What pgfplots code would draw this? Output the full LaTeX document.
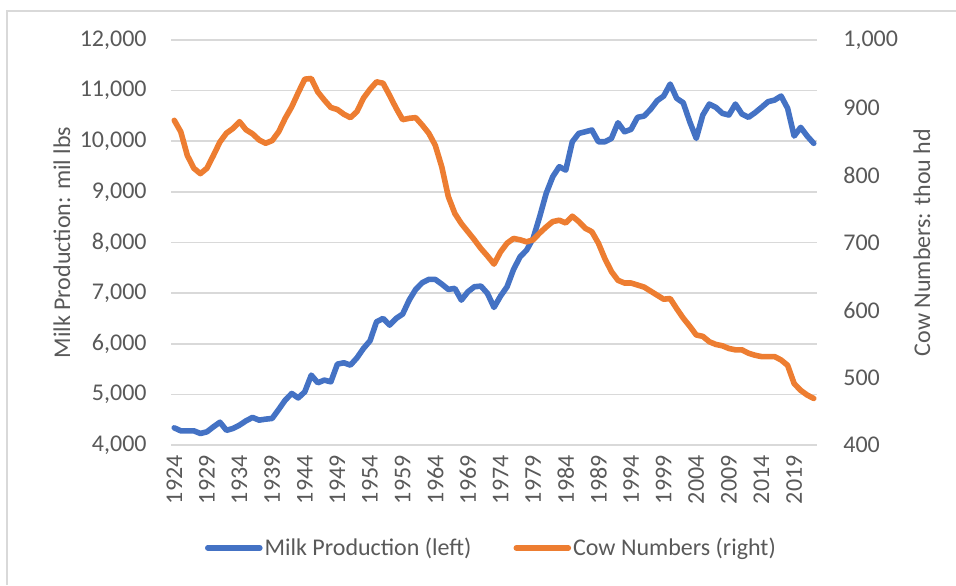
\documentclass[border=0pt]{standalone}
\usepackage{fontspec}
\setmainfont{Carlito}
\usepackage{pgfplots}
\usepackage{pgfplotstable}
\pgfplotsset{compat=1.18}
\definecolor{milkblue}{HTML}{4472C4}
\definecolor{coworange}{HTML}{ED7D31}
\definecolor{gridgrey}{HTML}{D9D9D9}
\definecolor{textgrey}{HTML}{595959}

\pgfplotstableread{
year milk
1924 4339
1925 4280
1926 4280
1927 4280
1928 4228
1929 4260
1930 4359
1931 4450
1932 4290
1933 4327
1934 4393
1935 4478
1936 4545
1937 4491
1938 4511
1939 4525
1940 4702
1941 4886
1942 5018
1943 4930
1944 5050
1945 5380
1946 5229
1947 5282
1948 5248
1949 5598
1950 5624
1951 5578
1952 5722
1953 5908
1954 6058
1955 6434
1956 6500
1957 6368
1958 6500
1959 6586
1960 6862
1961 7074
1962 7205
1963 7271
1964 7271
1965 7178
1966 7074
1967 7094
1968 6862
1969 7027
1970 7126
1971 7139
1972 6995
1973 6718
1974 6941
1975 7126
1976 7469
1977 7718
1978 7850
1979 8082
1980 8509
1981 8971
1982 9299
1983 9497
1984 9431
1985 9990
1986 10156
1987 10188
1988 10222
1989 9990
1990 9990
1991 10057
1992 10366
1993 10188
1994 10235
1995 10473
1996 10498
1997 10631
1998 10801
1999 10893
2000 11130
2001 10848
2002 10761
2003 10386
2004 10057
2005 10518
2006 10735
2007 10670
2008 10552
2009 10518
2010 10735
2011 10538
2012 10473
2013 10564
2014 10670
2015 10781
2016 10814
2017 10893
2018 10650
2019 10103
2020 10275
2021 10103
2022 9959
}\milktable

\pgfplotstableread{
year cows
1924 881
1925 864
1926 829
1927 810
1928 802
1929 810
1930 829
1931 849
1932 862
1933 869
1934 879
1935 867
1936 861
1937 852
1938 847
1939 851
1940 864
1941 884
1942 901
1943 922
1944 942
1945 943
1946 923
1947 911
1948 900
1949 897
1950 890
1951 885
1952 894
1953 914
1954 927
1955 938
1956 936
1957 918
1958 899
1959 882
1960 884
1961 885
1962 874
1963 862
1964 844
1965 812
1966 768
1967 743
1968 728
1969 716
1970 704
1971 691
1972 680
1973 668
1974 686
1975 699
1976 706
1977 704
1978 701
1979 704
1980 714
1981 723
1982 731
1983 733
1984 729
1985 739
1986 731
1987 721
1988 716
1989 699
1990 676
1991 657
1992 644
1993 640
1994 640
1995 637
1996 634
1997 628
1998 622
1999 616
2000 617
2001 602
2002 588
2003 576
2004 563
2005 561
2006 553
2007 549
2008 547
2009 543
2010 541
2011 541
2012 536
2013 533
2014 531
2015 531
2016 531
2017 526
2018 518
2019 491
2020 481
2021 474
2022 469
}\cowtable

\pgfplotsset{
  /pgf/number format/assume math mode=true,
  base/.style={
    scale only axis, width=323pt, height=202.5pt,
    at={(85.5pt,70pt)}, anchor=south west,
    xmin=1923.5, xmax=2022.5,
    axis line style={draw=none},
    major tick length=0pt,
    tick style={draw=none},
    scaled y ticks=false, scaled x ticks=false,
    ticklabel style={font=\fontsize{12}{14}\selectfont, text=textgrey, inner sep=0pt},
  },
}

\begin{document}
\begin{tikzpicture}
\useasboundingbox (0,0) rectangle (478pt,292.5pt);
\draw[gridgrey, line width=0.8pt] (3.5pt,0pt) -- (3.5pt,287pt) -- (478pt,287pt);

\begin{axis}[base,
  ymin=4000, ymax=12000, ytick={4000,5000,...,12000},
  ymajorgrids, major grid style={gridgrey, line width=0.8pt},
  yticklabel style={/pgf/number format/1000 sep={,}},
  yticklabel shift=12pt,
  xtick={1924,1929,...,2019},
  xticklabel style={rotate=90, anchor=east, /pgf/number format/1000 sep={}},
  xticklabel shift=5pt,
  ylabel={Milk Production: mil lbs},
  every axis y label/.style={at={(rel axis cs:0,0.5)}, xshift=-54.5pt, rotate=90, anchor=center, font=\fontsize{12}{14}\selectfont, text=textgrey},
]
\addplot[milkblue, line width=2.8pt, line join=round, line cap=round] table[x=year, y=milk] {\milktable};
\end{axis}

\begin{axis}[base,
  ymin=400, ymax=1000, ytick={400,500,...,1000},
  axis x line=none,
  yticklabel pos=right,
  yticklabel style={anchor=west, /pgf/number format/1000 sep={,}},
  yticklabel shift=13pt,
  xtick=\empty,
  ylabel={Cow Numbers: thou hd},
  every axis y label/.style={at={(rel axis cs:1,0.5)}, xshift=52.5pt, rotate=90, anchor=center, font=\fontsize{12}{14}\selectfont, text=textgrey},
  legend style={at={(0.496,-0.254)}, anchor=center, draw=none, fill=none,
    font=\fontsize{12}{14}\selectfont, text=textgrey,
    legend columns=2, inner sep=0pt,
    /tikz/every even column/.append style={column sep=20pt},
    nodes={inner sep=1pt}},
  legend image code/.code={\draw[#1, line cap=round] (0pt,0pt) -- (26pt,0pt);},
]
\addlegendimage{milkblue, line width=2.8pt}
\addlegendentry{Milk Production (left)}
\addplot[coworange, line width=2.8pt, line join=round, line cap=round] table[x=year, y=cows] {\cowtable};
\addlegendentry{Cow Numbers (right)}
\end{axis}
\end{tikzpicture}
\end{document}
